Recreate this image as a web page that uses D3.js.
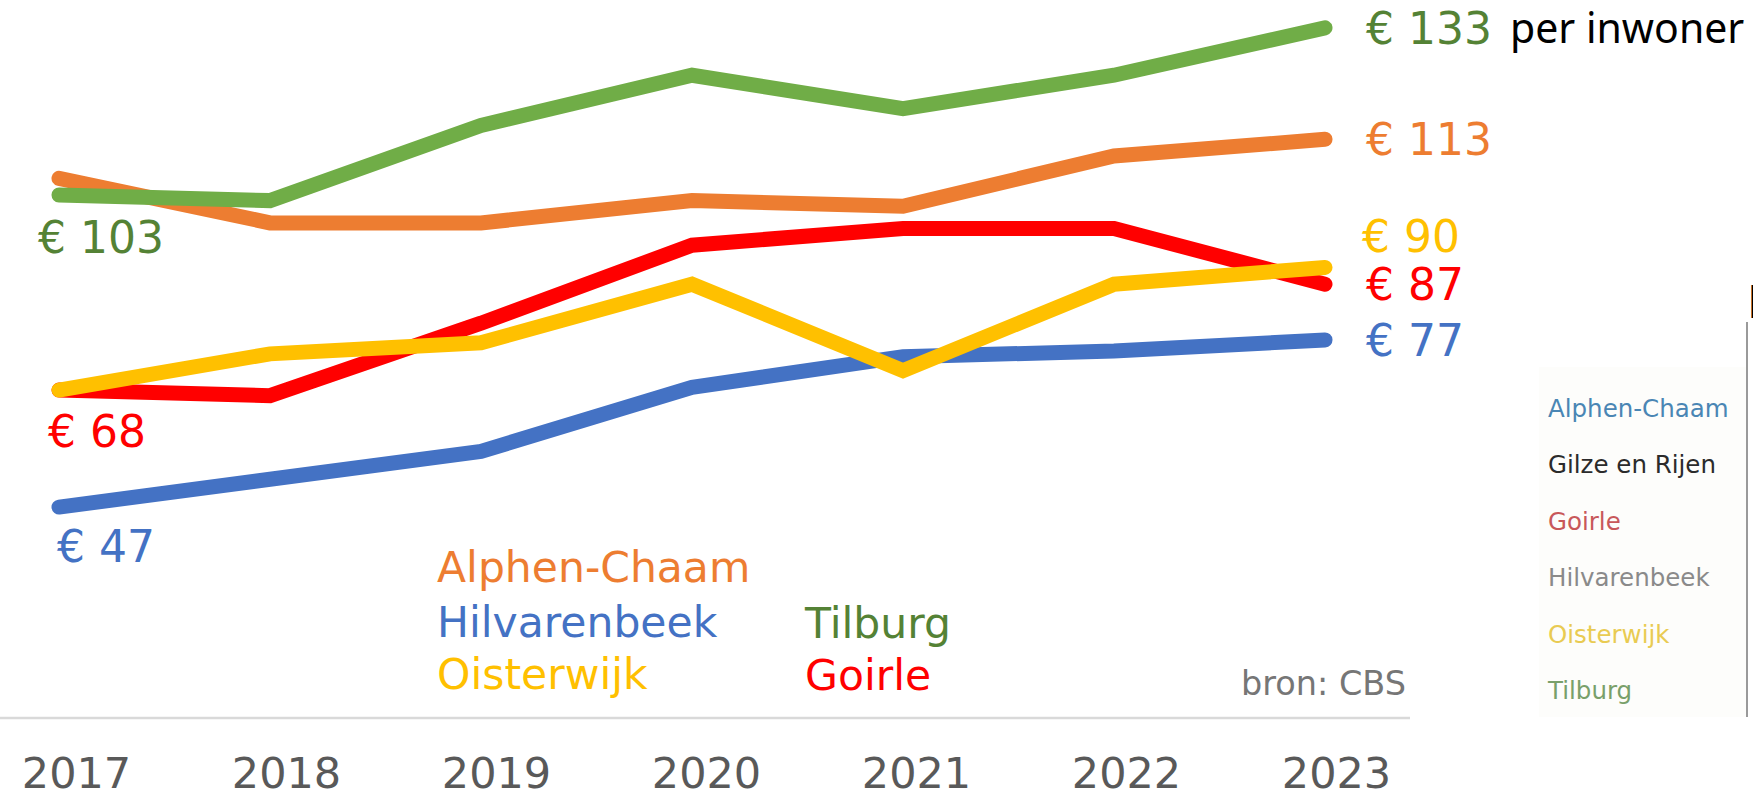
<!DOCTYPE html>
<html>
<head>
<meta charset="utf-8">
<script src="https://cdn.jsdelivr.net/npm/d3@7"></script>
<style>
  body { margin: 0; background: #fff; overflow: hidden; }
  text { font-family: 'DejaVu Sans', Verdana, sans-serif; }
</style>
</head>
<body>
<script>
//data start
var years = [2017, 2018, 2019, 2020, 2021, 2022, 2023]

var alphenChaam = [106, 98, 98, 102, 101, 110, 113]
var hilvarenbeek = [47, 52, 57, 68.5, 74, 75, 77]
var oisterwijk = [68, 74.5, 76.5, 87, 71.5, 87, 90]
var tilburg = [103, 102, 115.5, 124.5, 118.5, 124.5, 133]
var goirle = [68, 67, 80, 94, 97, 97, 87]

var unitLabel = 'per inwoner'
var sourceLabel = 'bron: CBS'

// names in the pasted table on the right
var sideNames = ['Alphen-Chaam', 'Gilze en Rijen', 'Goirle', 'Hilvarenbeek', 'Oisterwijk', 'Tilburg']
var sideColors = ['#4a86b4', '#2b2b2b', '#c8585a', '#8a8a8a', '#e9cb52', '#79a06a']
//data end

var w = 1753,
    h = 798

// series in drawing order (last one on top)
var series = [
    { name: 'Alphen-Chaam', values: alphenChaam, line: '#ED7D31', ink: '#ED7D31' },
    { name: 'Tilburg', values: tilburg, line: '#70AD47', ink: '#548235' },
    { name: 'Hilvarenbeek', values: hilvarenbeek, line: '#4472C4', ink: '#4472C4' },
    { name: 'Goirle', values: goirle, line: '#FF0000', ink: '#FF0000' },
    { name: 'Oisterwijk', values: oisterwijk, line: '#FFC000', ink: '#FFC000' }
]

// where the value labels and legend entries sit (layout only)
var startNudge = { 'Tilburg': [-21, 58], 'Goirle': [-11, 57], 'Hilvarenbeek': [-2, 55] }
var endNudge = { 'Oisterwijk': [37, -15] }
var legendPos = {
    'Alphen-Chaam': [437, 582],
    'Hilvarenbeek': [437, 637],
    'Oisterwijk': [437, 689],
    'Tilburg': [805, 638],
    'Goirle': [805, 690]
}

var svg = d3.select('body').append('svg')
    .attr('width', w)
    .attr('height', h)

svg.append('rect')
    .attr('width', w)
    .attr('height', h)
    .attr('fill', '#fff')

var x = d3.scalePoint()
    .domain(years)
    .range([59, 1325])

// year labels sit a little to the right of the points
var xAxisScale = d3.scalePoint()
    .domain(years)
    .range([76, 1336])

var y = d3.scaleLinear()
    .domain([0, 138])
    .range([769, 0])

var line = d3.line()
    .x(function(d, i) { return x(years[i]) })
    .y(function(d) { return y(d) })

svg.selectAll('path.serie')
    .data(series)
    .enter()
    .append('path')
    .attr('class', 'serie')
    .attr('d', function(d) { return line(d.values) })
    .attr('fill', 'none')
    .attr('stroke', function(d) { return d.line })
    .attr('stroke-width', 15)
    .attr('stroke-linecap', 'round')
    .attr('stroke-linejoin', 'miter')

// value labels at 2023
svg.selectAll('text.end')
    .data(series)
    .enter()
    .append('text')
    .attr('class', 'end')
    .attr('x', function(d) { return x(2023) + 41 + (endNudge[d.name] ? endNudge[d.name][0] - 41 : 0) })
    .attr('y', function(d) {
        var v = d.values[d.values.length - 1]
        return y(v) + (endNudge[d.name] ? endNudge[d.name][1] : 16)
    })
    .attr('fill', function(d) { return d.ink })
    .style('font-size', '44px')
    .text(function(d) { return '\u20ac ' + d.values[d.values.length - 1] })

// value labels at 2017
svg.selectAll('text.start')
    .data(series.filter(function(d) { return startNudge[d.name] }))
    .enter()
    .append('text')
    .attr('class', 'start')
    .attr('x', function(d) { return x(2017) + startNudge[d.name][0] })
    .attr('y', function(d) { return y(d.values[0]) + startNudge[d.name][1] })
    .attr('fill', function(d) { return d.ink })
    .style('font-size', '44px')
    .text(function(d) { return '\u20ac ' + d.values[0] })

svg.append('text')
    .attr('x', 1510)
    .attr('y', 43)
    .attr('fill', '#000')
    .style('font-family', "'Noto Sans', 'Open Sans', sans-serif")
    .style('font-size', '41px')
    .text(unitLabel)

// legend
svg.selectAll('text.legend')
    .data(series)
    .enter()
    .append('text')
    .attr('class', 'legend')
    .attr('x', function(d) { return legendPos[d.name][0] })
    .attr('y', function(d) { return legendPos[d.name][1] })
    .attr('fill', function(d) { return d.ink })
    .style('font-size', '42.5px')
    .text(function(d) { return d.name })

svg.append('text')
    .attr('x', 1241)
    .attr('y', 695)
    .attr('fill', '#767676')
    .style('font-size', '33.5px')
    .text(sourceLabel)

// base line
svg.append('line')
    .attr('x1', 0)
    .attr('x2', 1410)
    .attr('y1', 718)
    .attr('y2', 718)
    .attr('stroke', '#d9d9d9')
    .attr('stroke-width', 2.5)

var xAxis = svg.append('g')
    .attr('transform', 'translate(0,757)')
    .call(d3.axisBottom(xAxisScale).tickSize(0).tickPadding(0))

xAxis.select('.domain').remove()
xAxis.selectAll('text')
    .attr('fill', '#595959')
    .style('font-family', "'DejaVu Sans', Verdana, sans-serif")
    .style('font-size', '43px')

// piece of a pasted table at the right edge
svg.append('rect')
    .attr('x', 1539)
    .attr('y', 367)
    .attr('width', 208)
    .attr('height', 350)
    .attr('fill', '#fdfdfb')

svg.append('line')
    .attr('x1', 1747)
    .attr('x2', 1747)
    .attr('y1', 322)
    .attr('y2', 717)
    .attr('stroke', '#9a9a9a')
    .attr('stroke-width', 2)

svg.append('text')
    .attr('x', 1748)
    .attr('y', 308)
    .attr('fill', '#000')
    .style('font-family', "'Noto Sans', 'Open Sans', sans-serif")
    .style('font-size', '41px')
    .text('p')

svg.selectAll('text.side')
    .data(sideNames)
    .enter()
    .append('text')
    .attr('class', 'side')
    .attr('x', 1548)
    .attr('y', function(d, i) { return 417 + i * 56.4 })
    .attr('fill', function(d, i) { return sideColors[i] })
    .style('font-size', '24.5px')
    .text(function(d) { return d })
</script>
</body>
</html>
